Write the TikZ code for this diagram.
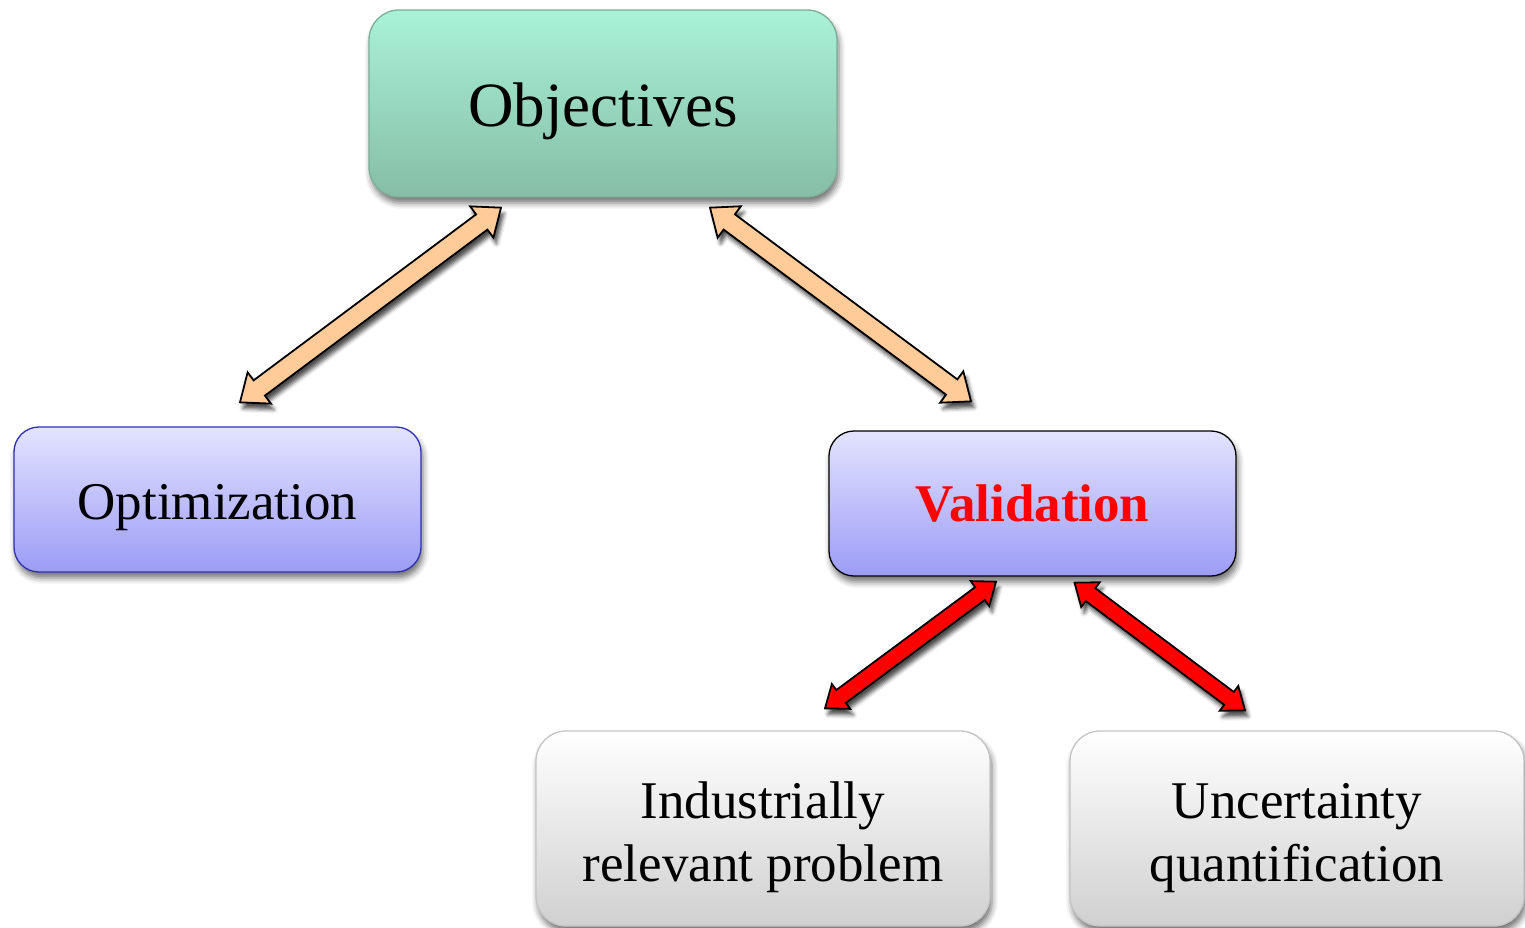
\documentclass[tikz,border=0pt]{standalone}
\usepackage{fontspec}
\setmainfont{Liberation Serif}
\usetikzlibrary{calc,shadows.blur}
\definecolor{objtop}{HTML}{A9F2D8}
\definecolor{objbot}{HTML}{86BDA6}
\definecolor{objdraw}{HTML}{7EAE98}
\definecolor{bluetop}{HTML}{E3E3FF}
\definecolor{bluebot}{HTML}{9C9CF6}
\definecolor{bluedraw}{HTML}{2F2FB4}
\definecolor{graybot}{HTML}{D0D0D0}
\definecolor{graydraw}{HTML}{C4C4C4}
\definecolor{peach}{HTML}{FFCC99}
\definecolor{redarrow}{HTML}{FF0000}
\tikzset{
  boxshadow/.style={blur shadow={shadow xshift=2pt, shadow yshift=-6pt, shadow blur radius=6pt, shadow opacity=55}},
  box/.style={rectangle, line width=1.3pt, boxshadow},
  objbox/.style={box, rounded corners=30pt, minimum width=468pt, minimum height=187pt,
     top color=objtop, bottom color=objbot, draw=objdraw, font=\fontsize{63}{70}\selectfont},
  bluebox/.style={box, rounded corners=25pt, minimum width=407pt, minimum height=145pt,
     top color=bluetop, bottom color=bluebot, font=\fontsize{53}{62}\selectfont},
  graybox/.style={box, rounded corners=30pt, minimum width=454pt, minimum height=195pt,
     top color=white, bottom color=graybot, draw=graydraw, font=\fontsize{53}{63}\selectfont},
  arrowshape/.style={draw=black, line width=1.8pt, line join=miter,
     blur shadow={shadow xshift=3pt, shadow yshift=-6pt, shadow blur radius=4pt, shadow opacity=70}}
}
% place a text line with its baseline #1 below the node centre
\newcommand\lowered[2]{\raisebox{-#1}[0pt][0pt]{#2}}
% two lines, first baseline #1 above the node centre
\newcommand\twolines[3]{\raisebox{#1}[0pt][0pt]{\begin{tabular}[t]{@{}c@{}}#2\\#3\end{tabular}}}
% #1 start, #2 end, #3 fill, #4 shaft half-width, #5 head half-width, #6 head length
\newcommand\blockarrow[6]{%
  \path[arrowshape, fill=#3]
    let \p1=(#1), \p2=(#2), \n1={atan2(\y2-\y1,\x2-\x1)}, \n2={veclen(\x2-\x1,\y2-\y1)}, \n3={\n2-#6} in
    (\p1)
    -- ($(\p1)+(\n1:#6 pt)+(\n1+90:#5 pt)$)
    -- ($(\p1)+(\n1:#6 pt)+(\n1+90:#4 pt)$)
    -- ($(\p1)+(\n1:\n3)+(\n1+90:#4 pt)$)
    -- ($(\p1)+(\n1:\n3)+(\n1+90:#5 pt)$)
    -- (\p2)
    -- ($(\p1)+(\n1:\n3)+(\n1-90:#5 pt)$)
    -- ($(\p1)+(\n1:\n3)+(\n1-90:#4 pt)$)
    -- ($(\p1)+(\n1:#6 pt)+(\n1-90:#4 pt)$)
    -- ($(\p1)+(\n1:#6 pt)+(\n1-90:#5 pt)$)
    -- cycle;
}
\begin{document}
\begin{tikzpicture}[x=1pt,y=-1pt]
\useasboundingbox (0,0) rectangle (1525,928);
\node[objbox] (obj) at (603,103.5) {\lowered{23pt}{Objectives}};
\node[bluebox, draw=bluedraw] (opt) at (217.5,499.5) {\lowered{20pt}{Optimization}};
\node[bluebox, draw=black, text=redarrow, font=\fontsize{53}{60}\selectfont\bfseries] (val) at (1032.5,503.5) {\lowered{18pt}{Validation}};
\node[graybox] (ind) at (763,828.5) {\twolines{10pt}{Industrially}{relevant problem}};
\node[graybox] (unc) at (1297,828.5) {\twolines{10pt}{Uncertainty}{quantification}};
% arrow end points
\coordinate (p1a) at ($(obj.south)+(-102,10)$);
\coordinate (p1b) at ($(opt.north)+(22.5,-24)$);
\coordinate (p2a) at ($(obj.south)+(107,10)$);
\coordinate (p2b) at ($(val.north)+(-61.5,-29)$);
\coordinate (r1a) at ($(val.south)+(-36.5,5)$);
\coordinate (r1b) at ($(ind.north)+(62,-22)$);
\coordinate (r2a) at ($(val.south)+(42,6)$);
\coordinate (r2b) at ($(unc.north)+(-52,-20)$);
\blockarrow{p1a}{p1b}{peach}{9.5}{19.5}{24}
\blockarrow{p2a}{p2b}{peach}{9.5}{19.5}{24}
\blockarrow{r1a}{r1b}{redarrow}{8}{15.5}{20}
\blockarrow{r2a}{r2b}{redarrow}{8}{15.5}{20}
\end{tikzpicture}
\end{document}
